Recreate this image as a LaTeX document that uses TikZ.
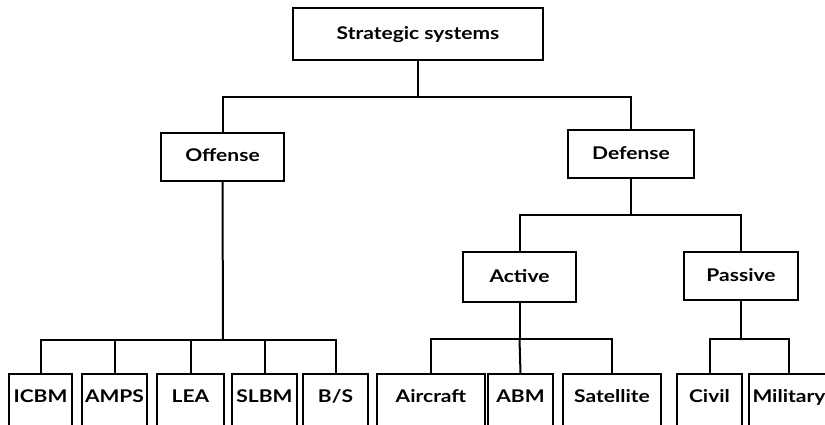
\documentclass[tikz,border=0pt]{standalone}
\usepackage{fontspec}
\setmainfont{Lato}[FakeStretch=1.2]
\usepackage{tikz}

\begin{document}
\begin{tikzpicture}[
            x=1pt, y=1pt,
            box/.style={rectangle, draw, line width=2pt, inner sep=0pt, minimum height=48pt, text height=12pt, text depth=2pt, font=\fontsize{17.5}{20}\selectfont\bfseries},
            leaf/.style={box, anchor=north, minimum height=52pt, text depth=8pt},
            link/.style={line width=2pt}
            ]
            \useasboundingbox (0,0) rectangle (825,-424);
            \clip (0,0) rectangle (825,-424);

            % Main node
            \node[box, minimum width=250pt, minimum height=52pt] (top) at (418,-34) {Strategic systems};

            % Offense and defense
            \node[box, minimum width=123pt] (offense) at (222.5,-156.5) {Offense};
            \node[box, minimum width=126pt] (defense) at (631,-154) {Defense};
            \node[box, minimum width=113pt, minimum height=50pt] (active) at (519.5,-277) {Active};
            \node[box, minimum width=114pt] (passive) at (741,-276) {Passive};

            % Offense systems
            \node[leaf, minimum width=63pt] (icbm) at (40.5,-373) {ICBM};
            \node[leaf, minimum width=65pt] (amps) at (114.5,-373) {AMPS};
            \node[leaf, minimum width=67pt] (lea) at (190.5,-373) {LEA};
            \node[leaf, minimum width=65pt] (slbm) at (264.5,-373) {SLBM};
            \node[leaf, minimum width=65pt] (bs) at (335.5,-373) {B/S};

            % Defense systems
            \node[leaf, minimum width=108pt] (aircraft) at (431,-373) {Aircraft};
            \node[leaf, minimum width=65pt] (abm) at (520.5,-373) {ABM};
            \node[leaf, minimum width=98pt] (satellite) at (612,-373) {Satellite};
            \node[leaf, minimum width=65pt] (civil) at (709.5,-373) {Civil};
            \node[leaf, minimum width=80pt] (military) at (789,-373) {Military};

            % Junctions
            \coordinate (topbar) at (418,-97);
            \coordinate (offbar) at (223,-340);
            \coordinate (defbar) at (631,-215);
            \coordinate (actbar) at (519.5,-339);
            \coordinate (pasbar) at (741,-339);

            % Lines
            \draw[link] (top.south) -- (topbar);
            \draw[link] (offense.north) |- (topbar) -| (defense.north);
            \draw[link] (offense.south) -- (offbar);
            \draw[link] (icbm.north) |- (offbar) -| (bs.north);
            \foreach \n in {amps,lea,slbm}
                \draw[link] (offbar) -| (\n.north);
            \draw[link] (defense.south) -- (defbar);
            \draw[link] (active.north) |- (defbar) -| (passive.north);
            \draw[link] (active.south) -- (actbar);
            \draw[link] (aircraft.north) |- (actbar) -| (satellite.north);
            \draw[link] (actbar) -- (abm.north);
            \draw[link] (passive.south) -- (pasbar);
            \draw[link] (civil.north) |- (pasbar) -| (military.north);

        \end{tikzpicture}
\end{document}
